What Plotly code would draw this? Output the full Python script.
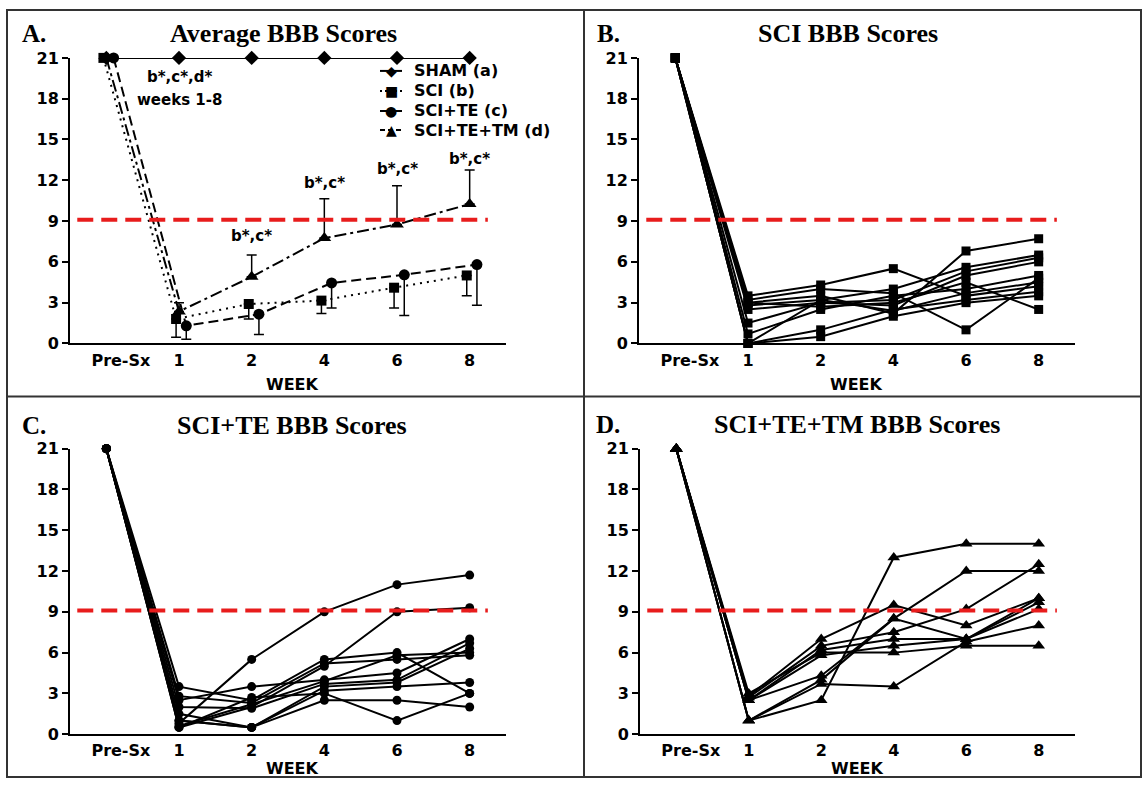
import plotly.graph_objects as go

W, H = 1144, 788
# vertical placement calibration (reference pixel -> figure pixel)
Y_OFF, Y_SCALE = 8.2, 0.974

# ---------------- data ----------------
week_labels = ["Pre-Sx", "1", "2", "4", "6", "8"]
xpos = [0, 1, 2, 3, 4, 5]

sham_mean = [21, 21, 21, 21, 21, 21]
sci_mean = [21, 1.8, 2.9, 3.15, 4.1, 5.0]
sci_err_minus = [0, 1.35, 1.1, 0.95, 1.5, 1.5]
te_mean = [21, 1.3, 2.15, 4.45, 5.05, 5.8]
te_err_minus = [0, 1.0, 1.5, 1.85, 3.0, 3.0]
tm_mean = [21, 2.35, 4.9, 7.75, 8.75, 10.25]
tm_err_plus = [0, 0.65, 1.6, 2.9, 2.85, 2.5]

sci_individual = [
    [21, 3.5, 4.3, 5.5, 3.5, 4.2],
    [21, 3.2, 4.0, 3.7, 1.0, 4.8],
    [21, 3.0, 3.5, 2.2, 6.8, 7.7],
    [21, 2.8, 3.2, 4.0, 5.6, 6.5],
    [21, 2.5, 3.0, 3.2, 5.3, 6.3],
    [21, 3.0, 2.7, 3.0, 4.5, 2.5],
    [21, 1.5, 3.0, 2.8, 5.0, 6.0],
    [21, 0.7, 2.5, 3.5, 4.0, 5.0],
    [21, 0.0, 1.0, 2.5, 3.2, 3.8],
    [21, 0.0, 0.5, 2.0, 3.0, 3.5],
    [21, 0.0, 3.2, 2.4, 3.7, 4.5],
]
te_individual = [
    [21, 0.8, 5.5, 9.0, 11.0, 11.7],
    [21, 0.5, 2.0, 5.0, 9.0, 9.3],
    [21, 3.5, 2.5, 5.5, 6.0, 3.0],
    [21, 2.8, 2.3, 5.2, 5.5, 5.8],
    [21, 2.5, 3.5, 4.0, 4.5, 7.0],
    [21, 2.0, 1.9, 3.7, 4.0, 6.7],
    [21, 1.5, 0.5, 3.5, 3.8, 6.3],
    [21, 1.0, 0.5, 3.2, 3.5, 3.8],
    [21, 0.5, 2.7, 3.0, 1.0, 3.0],
    [21, 1.0, 0.5, 2.5, 2.5, 2.0],
    [21, 0.6, 2.2, 3.9, 5.8, 6.0],
]
tm_individual = [
    [21, 1.0, 2.5, 13.0, 14.0, 14.0],
    [21, 2.8, 7.0, 9.5, 8.0, 10.0],
    [21, 1.0, 4.0, 8.5, 12.0, 12.0],
    [21, 2.5, 4.3, 8.5, 7.0, 9.7],
    [21, 2.7, 6.5, 7.5, 9.2, 12.5],
    [21, 2.5, 6.2, 7.0, 7.0, 9.2],
    [21, 3.0, 6.0, 6.0, 6.5, 6.5],
    [21, 1.0, 3.7, 3.5, 6.8, 8.0],
    [21, 2.5, 5.8, 6.5, 7.0, 10.0],
]

threshold = 9.1
yticks = [0, 3, 6, 9, 12, 15, 18, 21]

legend_names = ["SHAM (a)", "SCI (b)", "SCI+TE (c)", "SCI+TE+TM (d)"]
legend_glyphs = ["\u25c6", "\u25a0", "\u25cf", "\u25b2"]
legend_dash = ["solid", "2px,3px", "solid", "5px,3px"]

sig_text = ["b*,c*", "b*,c*", "b*,c*", "b*,c*"]
sig_x = [2, 3, 4, 5]
sig_y = [7.9, 11.8, 12.8, 13.6]

# ---------------- helpers ----------------
SANS = "DejaVu Sans"
SERIF = "Liberation Serif"


def px_x(p):
    return p / W


def px_y(r):
    f = (r - Y_OFF) / Y_SCALE
    f = min(max(f, 1.0), H - 1.0)
    return 1 - f / H


fig = go.Figure()

domains = {
    "A": ([px_x(70), px_x(506)], [px_y(342), px_y(57)]),
    "B": ([px_x(639), px_x(1075)], [px_y(342), px_y(57)]),
    "C": ([px_x(70), px_x(506)], [px_y(732), px_y(447)]),
    "D": ([px_x(640), px_x(1075)], [px_y(732), px_y(447)]),
}
axnames = {"A": ("x", "y"), "B": ("x2", "y2"), "C": ("x3", "y3"), "D": ("x4", "y4")}

layout_axes = {}
for i, key in enumerate(["A", "B", "C", "D"]):
    sfx = "" if i == 0 else str(i + 1)
    xd, yd = domains[key]
    layout_axes["xaxis" + sfx] = dict(
        domain=xd, anchor="y" + sfx, range=[-0.5, 5.5],
        tickvals=[0.2] + xpos[1:], ticktext=week_labels,
        ticks="", showline=True, linecolor="black", linewidth=2,
        showgrid=False, zeroline=False, ticklabelstandoff=1,
        tickfont=dict(family=SANS, size=16, color="black", weight="bold"),
    )
    layout_axes["yaxis" + sfx] = dict(
        domain=yd, anchor="x" + sfx, range=[0, 21],
        tickvals=yticks, ticks="outside", ticklen=6, tickwidth=2,
        tickcolor="black", showline=True, linecolor="black", linewidth=2,
        showgrid=False, zeroline=False,
        tickfont=dict(family=SANS, size=16, color="black", weight="bold"),
    )


def shift(vals, d):
    return [v + d for v in vals]


# ---- Panel A ----
fig.add_trace(go.Scatter(
    x=xpos, y=sham_mean, mode="lines+markers", name=legend_names[0], showlegend=False,
    line=dict(color="black", width=2),
    marker=dict(symbol="diamond", size=11, color="black"),
    cliponaxis=False, xaxis="x", yaxis="y"))
fig.add_trace(go.Scatter(
    x=shift(xpos, -0.04), y=sci_mean, mode="lines+markers", name=legend_names[1],
    showlegend=False,
    line=dict(color="black", width=2, dash="2px,5px"),
    marker=dict(symbol="square", size=10, color="black"),
    error_y=dict(type="data", symmetric=False, array=[0] * 6,
                 arrayminus=sci_err_minus, color="black", thickness=1.5, width=5),
    cliponaxis=False, xaxis="x", yaxis="y"))
fig.add_trace(go.Scatter(
    x=shift(xpos, 0.1), y=te_mean, mode="lines+markers", name=legend_names[2],
    showlegend=False,
    line=dict(color="black", width=2, dash="10px,5px"),
    marker=dict(symbol="circle", size=11, color="black"),
    error_y=dict(type="data", symmetric=False, array=[0] * 6,
                 arrayminus=te_err_minus, color="black", thickness=1.5, width=5),
    cliponaxis=False, xaxis="x", yaxis="y"))
fig.add_trace(go.Scatter(
    x=xpos, y=tm_mean, mode="lines+markers", name=legend_names[3], showlegend=False,
    line=dict(color="black", width=2, dash="12px,4px,3px,4px"),
    marker=dict(symbol="triangle-up", size=12, color="black"),
    error_y=dict(type="data", symmetric=False, array=tm_err_plus,
                 arrayminus=[0] * 6, color="black", thickness=1.5, width=5),
    cliponaxis=False, xaxis="x", yaxis="y"))

# ---- Panels B, C, D ----
for series, (xa, ya), sym, size in [
    (sci_individual, axnames["B"], "square", 9),
    (te_individual, axnames["C"], "circle", 9),
    (tm_individual, axnames["D"], "triangle-up", 11),
]:
    for s in series:
        fig.add_trace(go.Scatter(
            x=xpos, y=s, mode="lines+markers", showlegend=False,
            line=dict(color="black", width=2),
            marker=dict(symbol=sym, size=size, color="black"),
            cliponaxis=False, xaxis=xa, yaxis=ya))

shapes = []
for key in ["A", "B", "C", "D"]:
    xa, ya = axnames[key]
    shapes.append(dict(type="line", xref=xa, yref=ya, x0=-0.4, x1=5.25,
                       y0=threshold, y1=threshold,
                       line=dict(color="rgb(232,28,28)", width=4, dash="16px,8px")))

# panel frames
bl = dict(color="#333333", width=2)
shapes += [
    dict(type="rect", xref="paper", yref="paper", x0=px_x(7), x1=px_x(1141),
         y0=px_y(800), y1=px_y(0), line=bl),
    dict(type="line", xref="paper", yref="paper", x0=px_x(584), x1=px_x(584),
         y0=px_y(800), y1=px_y(0), line=bl),
    dict(type="line", xref="paper", yref="paper", x0=px_x(7), x1=px_x(1141),
         y0=px_y(395), y1=px_y(395), line=bl),
]

annotations = []

# manual legend for panel A
leg_rows = [70, 90, 110, 129]
for name, glyph, dash, ry in zip(legend_names, legend_glyphs, legend_dash, leg_rows):
    shapes.append(dict(type="line", xref="paper", yref="paper",
                       x0=px_x(380), x1=px_x(402), y0=px_y(ry), y1=px_y(ry),
                       line=dict(color="black", width=2, dash=dash)))
    annotations.append(dict(text=glyph, x=px_x(391), y=px_y(ry), xref="paper", yref="paper",
                            showarrow=False, xanchor="center", yanchor="middle",
                            font=dict(family=SANS, size=14, color="black")))
    annotations.append(dict(text=name, x=px_x(412), y=px_y(ry), xref="paper", yref="paper",
                            showarrow=False, xanchor="left", yanchor="middle",
                            font=dict(family=SANS, size=16, color="black", weight="bold")))

titles = [
    ("A.", 34, 33, "Average BBB Scores", 283),
    ("B.", 608, 33, "SCI BBB Scores", 848),
    ("C.", 34, 424, "SCI+TE BBB Scores", 292),
    ("D.", 608, 423, "SCI+TE+TM BBB Scores", 857),
]
for lab, lx, ty, t, tx in titles:
    annotations.append(dict(text=lab, x=px_x(lx), y=px_y(ty), xref="paper", yref="paper",
                            showarrow=False, xanchor="center", yanchor="middle",
                            font=dict(family=SERIF, size=25, color="black", weight="bold")))
    annotations.append(dict(text=t, x=px_x(tx), y=px_y(ty), xref="paper", yref="paper",
                            showarrow=False, xanchor="center", yanchor="middle",
                            font=dict(family=SERIF, size=26, color="black", weight="bold")))
for key, cx, cy in [("A", 292, 383), ("B", 856, 383), ("C", 292, 766), ("D", 857, 766)]:
    annotations.append(dict(text="WEEK", x=px_x(cx), y=px_y(cy), xref="paper", yref="paper",
                            showarrow=False, xanchor="center", yanchor="middle",
                            font=dict(family=SANS, size=16, color="black", weight="bold")))

afont = dict(family=SANS, size=15, color="black", weight="bold")
annotations.append(dict(text="b*,c*,d*", x=1, y=19.6, xref="x", yref="y", showarrow=False,
                        font=afont, xanchor="center", yanchor="middle"))
annotations.append(dict(text="weeks 1-8", x=1, y=17.9, xref="x", yref="y", showarrow=False,
                        font=afont, xanchor="center", yanchor="middle"))
for t, sx, sy in zip(sig_text, sig_x, sig_y):
    annotations.append(dict(text=t, x=sx, y=sy, xref="x", yref="y", showarrow=False,
                            font=afont, xanchor="center", yanchor="middle"))

fig.update_layout(
    width=W, height=H, margin=dict(l=0, r=0, t=0, b=0),
    paper_bgcolor="white", plot_bgcolor="white",
    shapes=shapes, annotations=annotations, showlegend=False,
    **layout_axes,
)

fig.write_html("out.html")
